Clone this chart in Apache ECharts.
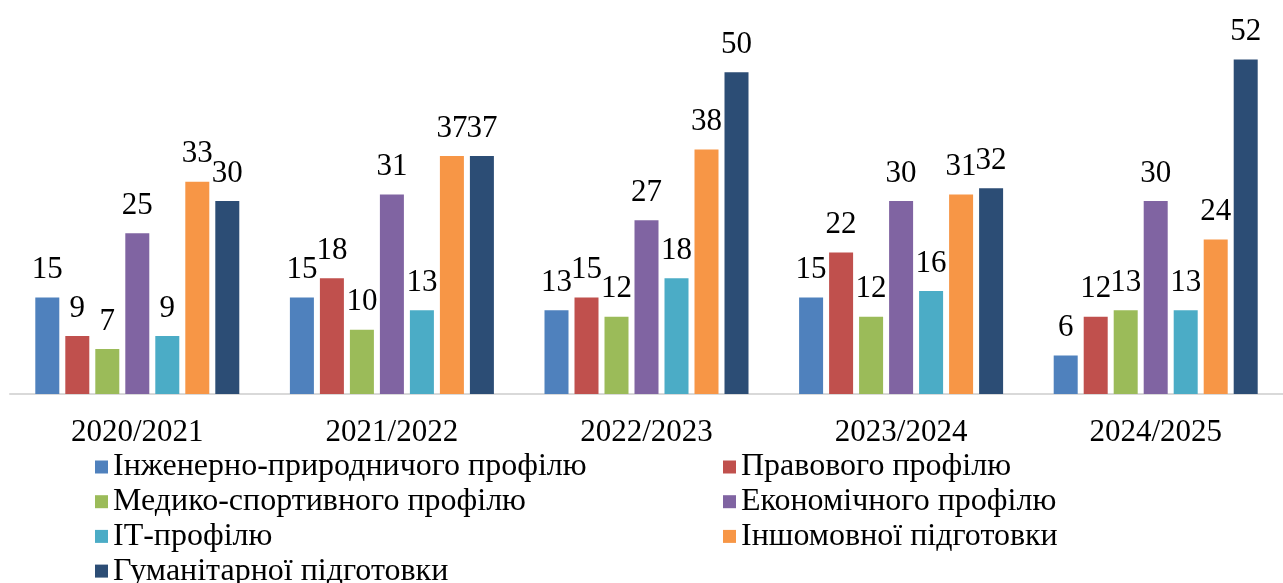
<!DOCTYPE html>
<html>
<head>
<meta charset="utf-8">
<script src="https://cdn.jsdelivr.net/npm/echarts@6/dist/echarts.min.js"></script>
<style>html,body{margin:0;padding:0;background:#fff;}#c{width:1283px;height:583px;}</style>
</head>
<body>
<div id="c"></div>
<script>
const categories = ['2020/2021', '2021/2022', '2022/2023', '2023/2024', '2024/2025'];
const seriesNames = ['Інженерно-природничого профілю', 'Правового профілю', 'Медико-спортивного профілю', 'Економічного профілю', 'ІТ-профілю', 'Іншомовної підготовки', 'Гуманітарної підготовки'];
const engineering = [15, 15, 13, 15, 6];
const law = [9, 18, 15, 22, 12];
const medical = [7, 10, 12, 12, 13];
const economics = [25, 31, 27, 30, 30];
const it = [9, 13, 18, 16, 13];
const languages = [33, 37, 38, 31, 24];
const humanities = [30, 37, 50, 32, 52];
const colors = ['#4F81BD', '#C0504D', '#9BBB59', '#8064A2', '#4BACC6', '#F79646', '#2C4D75'];
const allData = [engineering, law, medical, economics, it, languages, humanities];

const FONT = 'Liberation Serif';
const chart = echarts.init(document.getElementById('c'));
const legendBase = {
  orient: 'vertical', itemWidth: 13, itemHeight: 13, itemGap: 2.7, icon: 'rect',
  height: 200,
  textStyle: { fontFamily: FONT, fontSize: 32, color: '#000', lineHeight: 32 },
  selectedMode: false
};
chart.setOption({
  animation: false,
  color: colors,
  grid: { left: 10, width: 1280, top: 8, height: 386 },
  legend: [
    Object.assign({}, legendBase, { left: 90, top: 446, data: [seriesNames[0], seriesNames[2], seriesNames[4], seriesNames[6]] }),
    Object.assign({}, legendBase, { left: 718, top: 446, data: [seriesNames[1], seriesNames[3], seriesNames[5]] })
  ],
  xAxis: {
    type: 'category', data: categories,
    axisLine: { lineStyle: { color: '#D9D9D9', width: 2 } },
    axisTick: { show: false },
    axisLabel: { fontFamily: FONT, fontSize: 31, color: '#000', margin: 23 }
  },
  yAxis: { type: 'value', min: 0, max: 60, show: false, splitLine: { show: false } },
  series: seriesNames.map((n, i) => ({
    name: n, type: 'bar', data: allData[i], barWidth: 24, barGap: '25%',
    itemStyle: { color: colors[i] },
    label: { show: true, position: 'top', distance: 12, fontFamily: FONT, fontSize: 31, color: '#000' }
  }))
});
</script>
</body>
</html>
